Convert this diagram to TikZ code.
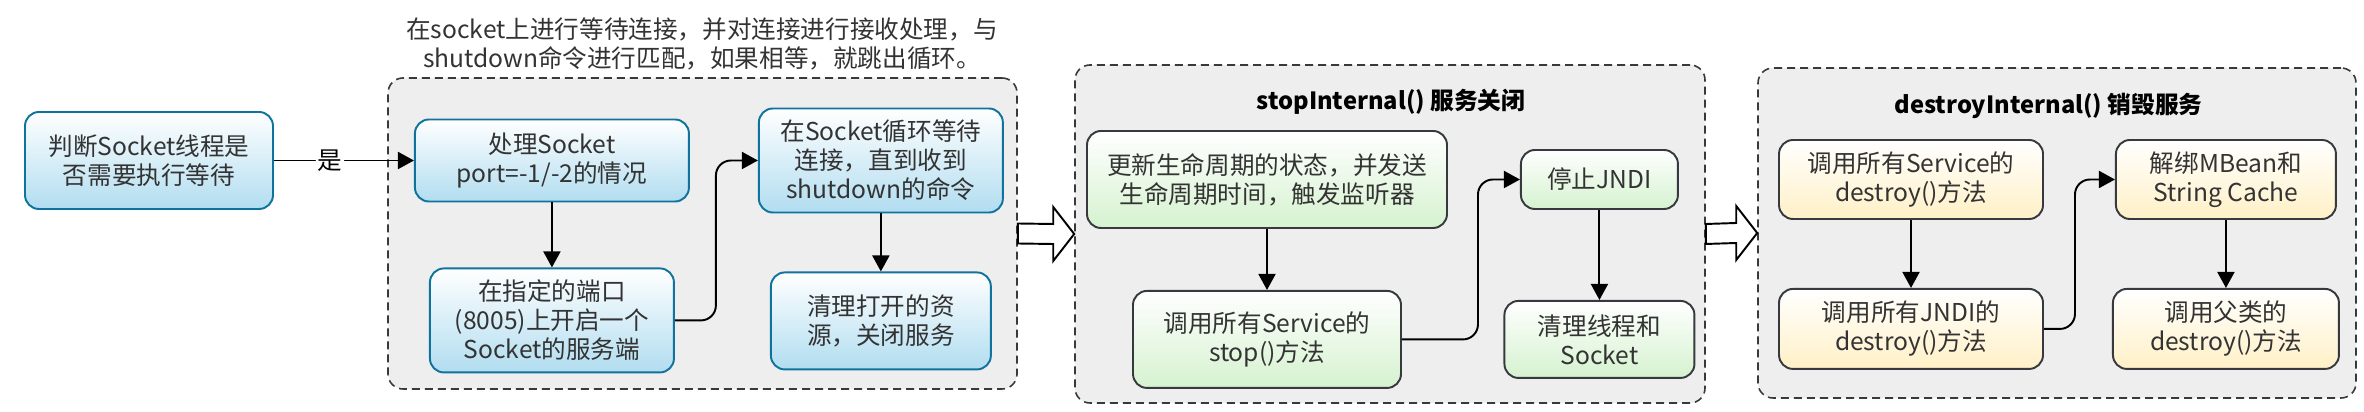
\documentclass[tikz,border=0pt]{standalone}
\usepackage{fontspec}
\setmainfont{Noto Sans CJK SC}
\usepackage{xcolor}
\usepackage{tikz}
\usetikzlibrary{arrows.meta,positioning,calc}

\definecolor{blueLine}{HTML}{10739E}
\definecolor{blueFill}{HTML}{B1DDF0}
\definecolor{greenFill}{HTML}{D5F2CF}
\definecolor{yellowFill}{HTML}{FFF0C6}
\definecolor{darkLine}{HTML}{36393D}
\definecolor{groupFill}{HTML}{EEEEEE}
\definecolor{textGray}{HTML}{333333}

\begin{document}
\begin{tikzpicture}[
        font=\fontsize{14pt}{16.5pt}\selectfont,
        task/.style={rectangle, draw=blueLine, line width=1.1pt, top color=white, bottom color=blueFill, rounded corners=0.28cm, align=center, text=textGray, inner sep=2pt},
        stopbox/.style={rectangle, draw=darkLine, line width=1.1pt, top color=white, bottom color=greenFill, rounded corners=0.28cm, align=center, text=textGray, inner sep=2pt},
        destroybox/.style={rectangle, draw=darkLine, line width=1.1pt, top color=white, bottom color=yellowFill, rounded corners=0.28cm, align=center, text=textGray, inner sep=2pt},
        group/.style={rectangle, draw=darkLine, fill=groupFill, line width=0.9pt, dash pattern=on 0.16cm off 0.1cm, rounded corners=0.3cm},
        title/.style={font=\fontsize{13.5pt}{16pt}\selectfont\bfseries, text=black},
        line/.style={-{Triangle[length=0.32cm,width=0.34cm]}, line width=1.1pt, rounded corners=0.3cm},
        hollow/.style={draw=black, fill=white, line width=1.1pt}
    ]
        \useasboundingbox (0,0) rectangle (47.28,-8.24);

        % Groups
        \node [group, minimum width=12.58cm, minimum height=6.22cm] (loop) at (14.05,-4.67) {};
        \node [group, minimum width=12.6cm, minimum height=6.76cm] (stop) at (27.8,-4.68) {};
        \node [group, minimum width=11.96cm, minimum height=6.6cm] (destroy) at (41.14,-4.66) {};

        % Note above the loop
        \node [align=center, text=textGray] (note) at (14.04,-0.88) {在socket上进行等待连接，并对连接进行接收处理，与\\shutdown命令进行匹配，如果相等，就跳出循环。};

        % Start
        \node [task, minimum width=4.96cm, minimum height=1.94cm] (judge) at (2.98,-3.21) {判断Socket线程是\\否需要执行等待};

        % Await loop
        \node [task, right=2.8cm of judge, minimum width=5.48cm, minimum height=1.64cm] (handle) {处理Socket\\port=-1/-2的情况};
        \node [task, below=1.3cm of handle, minimum width=4.88cm, minimum height=2.08cm] (open) {在指定的端口\\(8005)上开启一个\\Socket的服务端};
        \node [task, right=1.36cm of handle, minimum width=4.88cm, minimum height=2.08cm] (wait) {在Socket循环等待\\连接，直到收到\\shutdown的命令};
        \node [task, below=1.16cm of wait, minimum width=4.4cm, minimum height=1.94cm] (clean) {清理打开的资\\源，关闭服务};

        % stopInternal
        \node [title] (stoptitle) at (27.82,-2.04) {stopInternal() 服务关闭};
        \node [stopbox, minimum width=7.2cm, minimum height=1.94cm] (update) at (25.34,-3.59) {更新生命周期的状态，并发送\\生命周期时间，触发监听器};
        \node [stopbox, below=1.22cm of update, minimum width=5.36cm, minimum height=1.94cm] (callstop) {调用所有Service的\\stop()方法};
        \node [stopbox, right=1.44cm of update, minimum width=3.14cm, minimum height=1.18cm] (jndi) {停止JNDI};
        \node [stopbox, below=1.8cm of jndi, minimum width=3.8cm, minimum height=1.54cm] (cleanup) {清理线程和\\Socket};

        % destroyInternal
        \node [title] (destroytitle) at (40.97,-2.12) {destroyInternal() 销毁服务};
        \node [destroybox, minimum width=5.28cm, minimum height=1.58cm] (svcdestroy) at (38.22,-3.59) {调用所有Service的\\destroy()方法};
        \node [destroybox, below=1.36cm of svcdestroy, minimum width=5.28cm, minimum height=1.6cm] (jndidestroy) {调用所有JNDI的\\destroy()方法};
        \node [destroybox, right=1.42cm of svcdestroy, minimum width=4.4cm, minimum height=1.58cm] (unbind) {解绑MBean和\\String Cache};
        \node [destroybox, below=1.36cm of unbind, minimum width=4.52cm, minimum height=1.6cm] (superdestroy) {调用父类的\\destroy()方法};

        % Arrows
        \draw [line] (judge.east) -- node[pos=0.4, fill=white, inner sep=1pt] {是} (handle.west);
        \draw [line] (handle) -- (open);
        \draw [line] (open.east) -- ++(0.82,0) |- (wait.west);
        \draw [line] (wait) -- (clean);
        \draw [line] (update) -- (callstop);
        \draw [line] (callstop.east) -- ++(1.52,0) |- (jndi.west);
        \draw [line] (jndi) -- (cleanup);
        \draw [line] (svcdestroy) -- (jndidestroy);
        \draw [line] (jndidestroy.east) -- ++(0.62,0) |- (unbind.west);
        \draw [line] (unbind) -- (superdestroy);

        % Hollow arrows between groups
        \draw [hollow] ($(loop.east)+(0,0.2)$) -- ($(stop.west)+(-0.42,0.2)$) -- ++(0,0.34) -- (stop.west) -- ($(stop.west)+(-0.42,-0.54)$) -- ++(0,0.34) -- ($(loop.east)+(0,-0.2)$) -- cycle;
        \draw [hollow] ($(stop.east)+(0,0.2)$) -- ($(destroy.west)+(-0.42,0.2)$) -- ++(0,0.34) -- (destroy.west) -- ($(destroy.west)+(-0.42,-0.54)$) -- ++(0,0.34) -- ($(stop.east)+(0,-0.2)$) -- cycle;

    \end{tikzpicture}
\end{document}
